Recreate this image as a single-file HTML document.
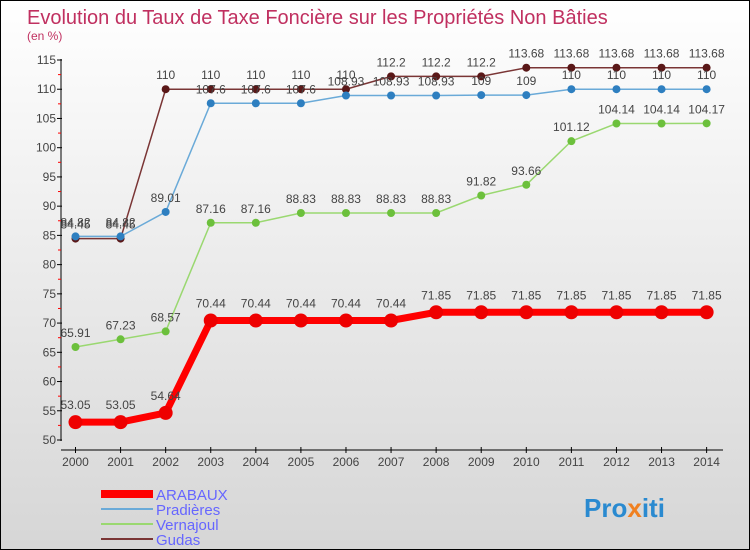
<!DOCTYPE html>
<html><head><meta charset="utf-8"><style>
body{margin:0}
#c{width:748px;height:548px;border:1px solid #000;background:linear-gradient(#fff,#d6d6d6);position:relative;font-family:"Liberation Sans",sans-serif;overflow:hidden}
svg text{font-family:"Liberation Sans",sans-serif}
</style></head><body>
<div id="c">
<svg id="s" width="748" height="548">
<text x="26" y="23" font-size="20" fill="#c03060">Evolution du Taux de Taxe Foncière sur les Propriétés Non Bâties</text>
<text x="26" y="39" font-size="12" fill="#c03060">(en %)</text>
<text x="583" y="516" font-size="26" font-weight="bold" fill="#2a8ad0">Pro<tspan fill="#f08020">x</tspan>iti</text>
</svg>
</div>
<script>
const years=[2000,2001,2002,2003,2004,2005,2006,2007,2008,2009,2010,2011,2012,2013,2014];
const arabaux=[53.05,53.05,54.64,70.44,70.44,70.44,70.44,70.44,71.85,71.85,71.85,71.85,71.85,71.85,71.85];
const pradieres=[84.82,84.82,89.01,107.6,107.6,107.6,108.93,108.93,108.93,109,109,110,110,110,110];
const vernajoul=[65.91,67.23,68.57,87.16,87.16,88.83,88.83,88.83,88.83,91.82,93.66,101.12,104.14,104.14,104.17];
const gudas=[84.45,84.45,110,110,110,110,110,112.2,112.2,112.2,113.68,113.68,113.68,113.68,113.68];
const yTicks=[50,55,60,65,70,75,80,85,90,95,100,105,110,115];
const names=["ARABAUX","Pradières","Vernajoul","Gudas"];
const NS="http://www.w3.org/2000/svg",s=document.getElementById('s');
const X=i=>74.5+i*45.08, Y=v=>439-(v-50)*(380/65);
function el(t,a,p){const e=document.createElementNS(NS,t);for(const k in a)e.setAttribute(k,a[k]);(p||s).appendChild(e);return e;}
let ax=el('line',{x1:60,y1:58,x2:60,y2:440,stroke:'#000'});


let xa=el('line',{x1:60,y1:449,x2:722,y2:449,stroke:'#000'});


yTicks.forEach(v=>{
 el('line',{x1:56,x2:61,y1:Y(v),y2:Y(v),stroke:'#000'});
 if(v<115)el('line',{x1:57,x2:60,y1:Y(v+2.5),y2:Y(v+2.5),stroke:'#f00'});
 const t=el('text',{x:55,y:Y(v)+4,'font-size':12,'text-anchor':'end',fill:'#444'});t.textContent=v;
 
 
});
years.forEach((y,i)=>{
 el('line',{x1:X(i),x2:X(i),y1:446,y2:452,stroke:'#000'});
 const t=el('text',{x:X(i),y:465,'font-size':12,'text-anchor':'middle',fill:'#444'});t.textContent=y;
 
 
});
const series=[[gudas,'#7a3535','#5a1818',1.5,4],[pradieres,'#6aaad8','#2e7fc0',1.5,4],[vernajoul,'#9ad870','#6cc03c',1.5,4],[arabaux,'#f00','#e00',7,7]];
const snames=['series-gudas','series-pradieres','series-vernajoul','series-arabaux'];
series.forEach(([d,c,f,w,r],k)=>{
 const g=el('g',{});
 
 
 el('polyline',{points:d.map((v,i)=>X(i)+','+Y(v)).join(' '),fill:'none',stroke:c,'stroke-width':w},g);
 d.forEach((v,i)=>{
  const p=el('circle',{cx:X(i),cy:Y(v),r:r,fill:f},g);
  
  
  const t=el('text',{x:X(i),y:Y(v)-(r+6),'font-size':12,'text-anchor':'middle',fill:'#444'},g);t.textContent=v;
  
  
 });
});
const lc=[['#f00',8],['#6aaad8',2],['#9ad870',2],['#7a3535',2]];
names.forEach((n,i)=>{
 const y=493+i*15;
 const g=el('g',{});
 
 
 el('line',{x1:100,x2:152,y1:y,y2:y,stroke:lc[i][0],'stroke-width':lc[i][1]},g);
 const t=el('text',{x:155,y:y+6,'font-size':15,fill:'#6666ff'},g);t.textContent=n;
});
</script>
</body></html>
